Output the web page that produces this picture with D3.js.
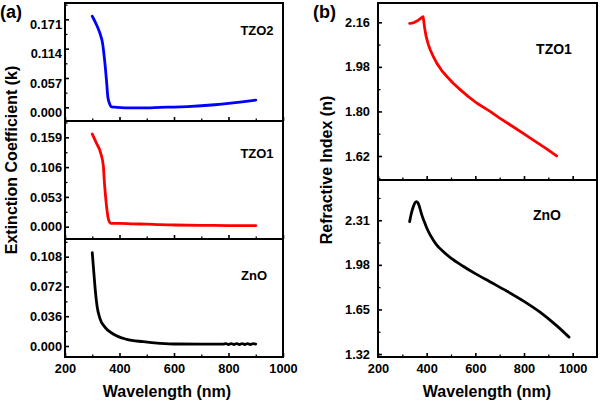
<!DOCTYPE html>
<html><head><meta charset="utf-8">
<script src="https://cdn.jsdelivr.net/npm/d3@7"></script>
<style>
body{margin:0;background:#fff}
svg text{font-family:"Liberation Sans",Arial,sans-serif;font-weight:bold;fill:#000}
</style>
</head><body><svg id="c" width="600" height="402"></svg>
<script>
// ---------- data ----------
const kTZO2_wl = [300,316,328,338,344,349,353,357,363,371,390,420,450,500,550,600,650,700,750,800,850,900];
const kTZO2    = [0.177,0.160,0.144,0.124,0.098,0.072,0.047,0.021,0.008,0.001,0.000,-0.001,-0.0012,-0.001,0.000,0.0005,0.0015,0.003,0.005,0.0075,0.0105,0.014];

const kTZO1_wl = [300,316,331,341,344,349,354,360,368,400,450,500,550,600,700,800,900];
const kTZO1    = [0.165,0.148,0.131,0.107,0.083,0.053,0.030,0.012,0.006,0.006,0.005,0.0045,0.0035,0.003,0.0025,0.002,0.0018];

const kZnO_wl = [300,306,311,318,328,347,377,426,487,549,610,700,780,790,800,810,820,830,840,850,860,870,880,890,900];
const kZnO    = [0.113,0.088,0.068,0.0475,0.0335,0.0226,0.0145,0.0081,0.0052,0.0033,0.0024,0.0023,0.0023,0.0029,0.0018,0.0029,0.0018,0.0029,0.0018,0.0029,0.0018,0.0029,0.0018,0.0029,0.0024];

const nTZO1_wl = [330,340,350,360,370,378,385,388,392,398,406,415,428,442,462,484,510,539,570,607,662,700,760,800,840,890,934];
const nTZO1    = [2.156,2.157,2.160,2.165,2.172,2.178,2.183,2.165,2.135,2.102,2.073,2.048,2.020,1.994,1.965,1.940,1.913,1.887,1.861,1.833,1.799,1.773,1.735,1.709,1.683,1.651,1.620];

const nZnO_wl = [330,337,345,352,358,364,372,380,390,400,415,440,470,500,550,600,660,730,800,866,934,985];
const nZnO    = [2.30,2.36,2.41,2.44,2.448,2.44,2.40,2.35,2.30,2.255,2.20,2.13,2.075,2.03,1.97,1.915,1.855,1.785,1.71,1.63,1.53,1.445];

const ticksKTZO2 = [0, 0.057, 0.114, 0.171];
const ticksKTZO1 = [0, 0.053, 0.106, 0.159];
const ticksKZnO  = [0, 0.036, 0.072, 0.108];
const ticksNTZO1 = [1.62, 1.80, 1.98, 2.16];
const ticksNZnO  = [1.32, 1.65, 1.98, 2.31];
const xTicksMajor = [200, 400, 600, 800, 1000];
const xTicksMinor = [300, 500, 700, 900];

// ---------- layout ----------
const svg = d3.select('#c');
svg.append('rect').attr('width',600).attr('height',402).attr('fill','#fff');

const xLeft  = d3.scaleLinear().domain([200,1000]).range([65,283]);
const xRight = d3.scaleLinear().domain([200,1100]).range([378,597]);

const panels = [
  {x:xLeft, top:3,   bottom:121, dom:[-0.0266,0.2027], ticks:ticksKTZO2, fmt:d3.format('.3f'), wl:kTZO2_wl, v:kTZO2, color:'#0000ff', label:'TZO2', lx:257, ly:30, ls:13, xl:false, dy:'0.72em', pad:3, curve:d3.curveMonotoneX},
  {x:xLeft, top:121, bottom:239, dom:[-0.0219,0.188],  ticks:ticksKTZO1, fmt:d3.format('.3f'), wl:kTZO1_wl, v:kTZO1, color:'#ff0000', label:'TZO1', lx:257, ly:153, ls:13, xl:false, dy:'0.32em', pad:3, curve:d3.curveMonotoneX},
  {x:xLeft, top:239, bottom:357, dom:[-0.0133,0.1294], ticks:ticksKZnO,  fmt:d3.format('.3f'), wl:kZnO_wl,  v:kZnO,  color:'#000000', label:'ZnO',  lx:254, ly:275, ls:13, xl:true,  dy:'0.32em', pad:3, curve:d3.curveMonotoneX},
  {x:xRight, top:3,  bottom:180, dom:[1.523,2.238],    ticks:ticksNTZO1, fmt:d3.format('.2f'), wl:nTZO1_wl, v:nTZO1, color:'#ff0000', label:'TZO1', lx:554, ly:49, ls:14, xl:false, dy:'0.32em', pad:8, curve:d3.curveLinear},
  {x:xRight, top:180, bottom:357, dom:[1.298,2.608],   ticks:ticksNZnO,  fmt:d3.format('.2f'), wl:nZnO_wl,  v:nZnO,  color:'#000000', label:'ZnO',  lx:547, ly:215, ls:14, xl:true,  dy:'0.32em', pad:8, curve:d3.curveMonotoneX}
];

panels.forEach(p => {
  const y = d3.scaleLinear().domain(p.dom).range([p.bottom, p.top]);
  const [x0, x1] = p.x.range();

  // curve
  const pts = p.wl.map((w,i)=>[w, p.v[i]]);
  svg.append('path')
    .attr('d', d3.line().x(d=>p.x(d[0])).y(d=>y(d[1])).curve(p.curve)(pts))
    .attr('fill','none').attr('stroke',p.color).attr('stroke-width',2.8)
    .attr('stroke-linejoin','round').attr('stroke-linecap','round');

  // y axis (ticks inward)
  const ya = svg.append('g').attr('transform',`translate(${x0},0)`)
    .call(d3.axisLeft(y).tickValues(p.ticks).tickFormat(p.fmt).tickSizeInner(-4).tickSizeOuter(0).tickPadding(p.pad));
  ya.select('.domain').remove();
  ya.selectAll('line').attr('stroke','#000').attr('stroke-width',1.6);
  ya.selectAll('text').attr('font-size',12.8).attr('dy',p.dy)
    .style('font-family','"Liberation Sans",Arial,sans-serif').style('font-weight','bold');

  // minor y ticks
  const tstep = p.ticks[1]-p.ticks[0];
  const minorY = p.ticks.map(t=>t+tstep/2).concat([p.ticks[0]-tstep/2]).filter(v=>v>p.dom[0]&&v<p.dom[1]);
  const ym = svg.append('g').attr('transform',`translate(${x0},0)`)
    .call(d3.axisLeft(y).tickValues(minorY).tickFormat('').tickSizeInner(-2.5).tickSizeOuter(0));
  ym.select('.domain').remove();
  ym.selectAll('line').attr('stroke','#000').attr('stroke-width',1.3);

  // x axis ticks (inward)
  const xa = svg.append('g').attr('transform',`translate(0,${p.bottom})`)
    .call(d3.axisBottom(p.x).tickValues(xTicksMajor).tickFormat(p.xl ? d3.format('d') : '').tickSizeInner(-4).tickSizeOuter(0).tickPadding(7));
  xa.select('.domain').remove();
  xa.selectAll('line').attr('stroke','#000').attr('stroke-width',1.6);
  xa.selectAll('text').attr('font-size',12.8)
    .style('font-family','"Liberation Sans",Arial,sans-serif').style('font-weight','bold');
  const xm = svg.append('g').attr('transform',`translate(0,${p.bottom})`)
    .call(d3.axisBottom(p.x).tickValues(xTicksMinor).tickFormat('').tickSizeInner(-2.5).tickSizeOuter(0));
  xm.select('.domain').remove();
  xm.selectAll('line').attr('stroke','#000').attr('stroke-width',1.3);

  // frame
  svg.append('rect').attr('x',x0).attr('y',p.top).attr('width',x1-x0).attr('height',p.bottom-p.top)
    .attr('fill','none').attr('stroke','#000').attr('stroke-width',2);

  // series label
  svg.append('text').attr('x',p.lx).attr('y',p.ly).attr('dy','0.35em')
    .attr('text-anchor','middle').attr('font-size',p.ls).text(p.label);
});

// panel letters
svg.append('text').attr('x',0).attr('y',18).attr('font-size',18).text('(a)');
svg.append('text').attr('x',313).attr('y',18).attr('font-size',18).text('(b)');

// axis titles
svg.append('text').attr('transform','translate(17,160) rotate(-90)').attr('text-anchor','middle')
  .attr('font-size',16).text('Extinction Coefficient (k)');
svg.append('text').attr('transform','translate(332,170) rotate(-90)').attr('text-anchor','middle')
  .attr('font-size',16).text('Refractive Index (n)');
svg.append('text').attr('x',167).attr('y',397).attr('text-anchor','middle').attr('font-size',16).text('Wavelength (nm)');
svg.append('text').attr('x',487).attr('y',397).attr('text-anchor','middle').attr('font-size',16).text('Wavelength (nm)');
</script>
</body></html>
